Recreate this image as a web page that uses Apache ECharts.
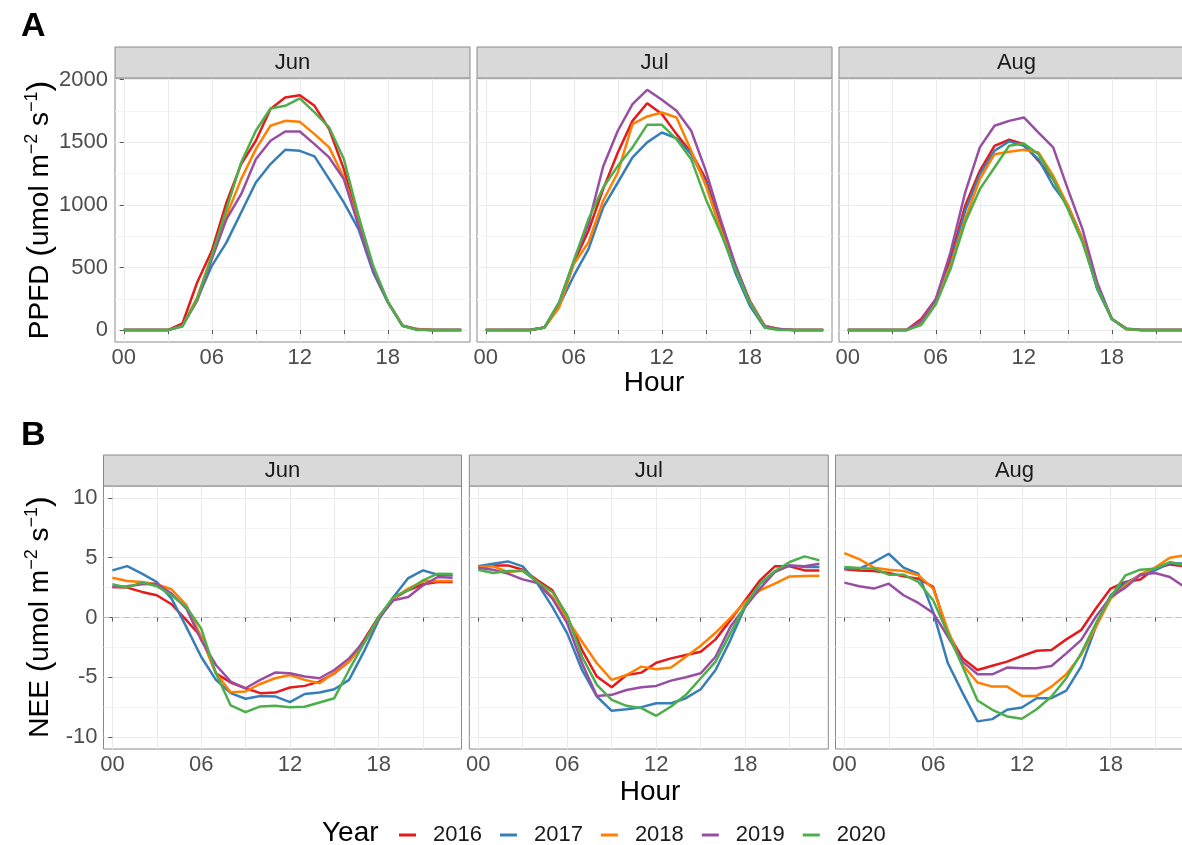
<!DOCTYPE html>
<html><head><meta charset="utf-8">
<script src="https://cdn.jsdelivr.net/npm/echarts@6/dist/echarts.min.js"></script>
<style>html,body{margin:0;padding:0;background:#fff}#c{width:1182px;height:845px}</style>
</head><body><div id="c"></div><script>
// ---------------- DATA ----------------
const hours = [0,1,2,3,4,5,6,7,8,9,10,11,12,13,14,15,16,17,18,19,20,21,22,23];
const months = ['Jun','Jul','Aug'];
const years = ['2016','2017','2018','2019','2020'];
const xMajorTicks = [0,6,12,18];
const xAllTicks = [0,3,6,9,12,15,18,21];
const ppfdTicks = [0,500,1000,1500,2000];
const ppfdMinorTicks = [250,750,1250,1750];
const neeTicks = [-10,-5,0,5,10];
const neeMinorTicks = [-7.5,-2.5,2.5,7.5];
const neeZero = 0;

// PPFD (umol m-2 s-1)
const ppfd_Jun_2016 = [0,0,0,0,53,380,633,1019,1325,1511,1764,1857,1875,1790,1604,1285,859,487,226,35,8,0,0,0];
const ppfd_Jun_2017 = [0,0,0,0,35,247,513,700,939,1178,1325,1439,1431,1386,1205,1019,806,460,221,35,5,0,0,0];
const ppfd_Jun_2018 = [0,0,0,0,35,260,593,912,1205,1444,1631,1670,1662,1564,1458,1218,859,487,226,35,8,0,0,0];
const ppfd_Jun_2019 = [0,0,0,0,35,234,567,886,1085,1364,1511,1585,1585,1484,1378,1205,833,473,226,35,5,0,0,0];
const ppfd_Jun_2020 = [0,0,0,0,29,247,593,966,1338,1591,1769,1790,1849,1737,1617,1365,912,513,226,35,0,0,0,0];

const ppfd_Jul_2016 = [0,0,0,0,21,194,540,793,1125,1418,1670,1811,1724,1564,1418,1205,833,513,234,35,8,0,0,0];
const ppfd_Jul_2017 = [0,0,0,0,21,194,434,646,979,1178,1378,1498,1577,1530,1404,1178,806,460,194,21,5,0,0,0];
const ppfd_Jul_2018 = [0,0,0,0,21,181,527,700,1032,1258,1644,1705,1737,1697,1431,1152,806,500,221,35,8,0,0,0];
const ppfd_Jul_2019 = [0,0,0,0,21,221,553,846,1306,1591,1804,1918,1838,1750,1591,1271,886,527,221,29,8,0,0,0];
const ppfd_Jul_2020 = [0,0,0,0,21,221,553,886,1138,1311,1458,1638,1638,1524,1364,1045,779,487,221,21,0,0,0,0];

const ppfd_Aug_2016 = [0,0,0,0,0,88,247,567,992,1271,1471,1519,1484,1351,1205,992,726,340,88,8,0,0,0,0];
const ppfd_Aug_2017 = [0,0,0,0,0,61,234,527,952,1245,1431,1506,1471,1364,1152,992,726,327,88,8,0,0,0,0];
const ppfd_Aug_2018 = [0,0,0,0,0,48,221,513,886,1205,1404,1423,1439,1418,1231,992,726,354,88,8,0,0,0,0];
const ppfd_Aug_2019 = [0,0,0,0,0,74,247,620,1098,1458,1631,1670,1697,1577,1458,1125,806,380,88,13,0,0,0,0];
const ppfd_Aug_2020 = [0,0,0,0,0,40,207,487,859,1125,1298,1471,1490,1404,1205,966,700,340,88,8,0,0,0,0];

// NEE (umol m-2 s-1)
const nee_Jun_2016 = [2.56,2.5,2.14,1.86,1.11,-0.22,-1.61,-4.67,-5.44,-5.92,-6.33,-6.28,-5.86,-5.72,-5.36,-4.67,-3.69,-1.89,0.06,1.58,2.28,2.78,2.97,2.97];
const nee_Jun_2017 = [3.94,4.3,3.67,2.97,1.58,-0.78,-3.28,-5.22,-6.33,-6.8,-6.56,-6.6,-7.08,-6.4,-6.28,-6.0,-5.22,-2.86,-0.22,1.72,3.3,3.94,3.58,3.53];
const nee_Jun_2018 = [3.33,3.06,2.97,2.78,2.36,1.03,-1.61,-4.67,-6.25,-6.19,-5.56,-5.08,-4.81,-5.22,-5.5,-4.61,-3.69,-2.17,-0.08,1.58,2.42,3.03,3.06,3.06];
const nee_Jun_2019 = [2.56,2.61,2.78,2.83,2.0,0.75,-1.89,-3.97,-5.36,-5.92,-5.22,-4.61,-4.67,-4.94,-5.08,-4.39,-3.42,-2.03,-0.08,1.44,1.72,2.69,3.39,3.33];
const nee_Jun_2020 = [2.78,2.5,2.94,2.61,1.86,0.89,-0.92,-4.67,-7.36,-7.92,-7.44,-7.39,-7.5,-7.47,-7.11,-6.75,-4.39,-2.17,0.06,1.72,2.28,3.11,3.67,3.64];

const nee_Jul_2016 = [4.17,4.36,4.36,4.0,3.11,2.28,0.06,-2.72,-4.94,-5.83,-4.81,-4.61,-3.78,-3.42,-3.14,-2.86,-1.83,-0.22,1.44,3.11,4.28,4.28,3.94,3.94];
const nee_Jul_2017 = [4.28,4.5,4.69,4.28,2.83,0.89,-1.33,-4.39,-6.61,-7.81,-7.67,-7.5,-7.17,-7.17,-6.75,-6.0,-4.39,-1.89,0.89,2.83,3.81,4.36,4.22,4.22];
const nee_Jul_2018 = [4.22,4.28,3.81,3.94,2.97,1.72,-0.17,-2.03,-3.83,-5.22,-4.81,-4.11,-4.33,-4.19,-3.28,-2.36,-1.28,-0.03,1.31,2.28,2.83,3.44,3.47,3.5];
const nee_Jul_2019 = [4.17,4.0,3.67,3.19,2.89,1.58,-0.5,-3.83,-6.56,-6.47,-6.06,-5.83,-5.72,-5.28,-5.0,-4.67,-3.28,-0.78,0.89,2.42,3.81,4.36,4.28,4.5];
const nee_Jul_2020 = [4.0,3.72,3.89,3.89,2.97,2.14,0.19,-3.28,-5.64,-6.89,-7.39,-7.58,-8.22,-7.44,-6.47,-5.08,-3.69,-1.33,1.03,2.83,3.89,4.64,5.11,4.78];

const nee_Aug_2016 = [4.03,3.94,3.89,3.72,3.44,3.25,2.56,-1.33,-3.42,-4.39,-4.03,-3.69,-3.22,-2.78,-2.72,-1.83,-1.06,0.75,2.42,2.97,3.17,4.08,4.44,4.28];
const nee_Aug_2017 = [4.08,4.08,4.64,5.33,4.17,3.67,0.47,-3.83,-6.33,-8.69,-8.5,-7.72,-7.53,-6.75,-6.75,-6.11,-4.11,-0.78,1.86,2.89,3.53,3.94,4.56,4.5];
const nee_Aug_2018 = [5.39,4.89,4.17,4.0,3.89,3.53,2.42,-1.06,-3.97,-5.44,-5.78,-5.78,-6.56,-6.56,-5.78,-4.75,-3.14,-0.78,1.58,2.69,3.61,4.17,5.0,5.19];
const nee_Aug_2019 = [2.92,2.61,2.42,2.83,1.86,1.22,0.39,-1.61,-3.69,-4.75,-4.75,-4.19,-4.25,-4.25,-4.06,-3.0,-1.89,0.06,1.72,2.5,3.58,3.72,3.39,2.55];
const nee_Aug_2020 = [4.22,4.14,4.08,3.58,3.58,2.97,1.44,-1.33,-4.11,-6.94,-7.72,-8.28,-8.47,-7.67,-6.61,-5.08,-3.0,-0.5,1.72,3.53,4.0,4.08,4.64,4.36];

const ppfdSeries = {
  Jun: [ppfd_Jun_2016, ppfd_Jun_2017, ppfd_Jun_2018, ppfd_Jun_2019, ppfd_Jun_2020],
  Jul: [ppfd_Jul_2016, ppfd_Jul_2017, ppfd_Jul_2018, ppfd_Jul_2019, ppfd_Jul_2020],
  Aug: [ppfd_Aug_2016, ppfd_Aug_2017, ppfd_Aug_2018, ppfd_Aug_2019, ppfd_Aug_2020]
};
const neeSeries = {
  Jun: [nee_Jun_2016, nee_Jun_2017, nee_Jun_2018, nee_Jun_2019, nee_Jun_2020],
  Jul: [nee_Jul_2016, nee_Jul_2017, nee_Jul_2018, nee_Jul_2019, nee_Jul_2020],
  Aug: [nee_Aug_2016, nee_Aug_2017, nee_Aug_2018, nee_Aug_2019, nee_Aug_2020]
};

// ---------------- STYLE / LAYOUT ----------------
const palette = ['#E41A1C','#377EB8','#FF7F00','#984EA3','#4DAF4A'];
const FONT = '"Liberation Sans", Arial, Helvetica, sans-serif';
const BORDER = '#8A8A8A';
const rows = [
  { top: 78, height: 264, stripTop: 47, min: -95, max: 2012, major: ppfdTicks, minor: ppfdMinorTicks, data: ppfdSeries, zero: false,
    panels: [{left:115,width:355},{left:477,width:355},{left:839,width:355}], labelMargin: 7 },
  { top: 486, height: 263, stripTop: 455, min: -11, max: 11, major: neeTicks, minor: neeMinorTicks, data: neeSeries, zero: true,
    panels: [{left:103.5,width:358},{left:469.3,width:359},{left:835.5,width:358}], labelMargin: 6 }
];

const grid = [], xAxis = [], yAxis = [], series = [], graphic = [];
let gi = 0;
rows.forEach((row, r) => {
  row.panels.forEach((p, c) => {
    grid.push({ left: p.left, top: row.top, width: p.width, height: row.height,
      outerBoundsMode: 'none', containLabel: false,
      show: true, borderColor: BORDER, borderWidth: 1, backgroundColor: 'transparent' });
    xAxis.push({ gridIndex: gi, type: 'value', min: -0.6, max: 23.6,
      axisLine: { show: false },
      axisTick: { show: true, customValues: xAllTicks, length: 4, lineStyle: { color: '#555', width: 1 } },
      axisLabel: { show: true, customValues: xMajorTicks, margin: 5, fontSize: 22, color: '#4D4D4D', fontFamily: FONT,
        hideOverlap: false, formatter: v => String(v).padStart(2, '0') },
      splitLine: { show: true, lineStyle: { color: '#EBEBEB', width: 1 } } });
    yAxis.push({ gridIndex: gi, type: 'value', min: row.min, max: row.max,
      axisLine: { show: false },
      axisTick: { show: c === 0, customValues: row.major, length: 4, lineStyle: { color: '#555', width: 1 } },
      axisLabel: { show: c === 0, customValues: row.major, margin: row.labelMargin, fontSize: 22, color: '#4D4D4D', fontFamily: FONT,
        formatter: v => String(v) },
      splitLine: { show: true, lineStyle: { color: '#EBEBEB', width: 1 } } });
    yAxis.push({ gridIndex: gi, type: 'value', min: row.min, max: row.max,
      axisLine: { show: false }, axisTick: { show: false, customValues: row.minor },
      axisLabel: { show: false, customValues: row.minor },
      splitLine: { show: true, lineStyle: { color: '#F5F5F5', width: 1 } } });
    const arrs = row.data[months[c]];
    arrs.forEach((arr, k) => {
      const s = { type: 'line', name: years[k], xAxisIndex: gi, yAxisIndex: gi * 2,
        data: hours.map((h, i) => [h, arr[i]]), symbol: 'none', showSymbol: false,
        lineStyle: { width: 2.5, color: palette[k] }, itemStyle: { color: palette[k] },
        animation: false, z: 3 + k };
      if (row.zero && k === 0) {
        s.markLine = { silent: true, symbol: 'none', label: { show: false }, z: 2,
          lineStyle: { type: [6, 4], color: '#BDBDBD', width: 1 }, data: [{ yAxis: neeZero }] };
      }
      series.push(s);
    });
    // strip
    graphic.push({ type: 'rect', shape: { x: p.left, y: row.stripTop, width: p.width, height: row.top - row.stripTop },
      style: { fill: '#D9D9D9', stroke: BORDER, lineWidth: 1 }, z: 10 });
    graphic.push({ type: 'text', x: p.left + p.width / 2, y: row.stripTop + (row.top - row.stripTop) / 2,
      style: { text: months[c], font: '22px ' + FONT, fill: '#1A1A1A', align: 'center', verticalAlign: 'middle' }, z: 11 });
    gi++;
  });
});

// panel letters, axis titles
graphic.push({ type: 'text', x: 21, y: 27, style: { text: 'A', font: 'bold 34px ' + FONT, fill: '#000', align: 'left', verticalAlign: 'middle' } });
graphic.push({ type: 'text', x: 21, y: 436, style: { text: 'B', font: 'bold 34px ' + FONT, fill: '#000', align: 'left', verticalAlign: 'middle' } });
const richY = {
  a: { fontSize: 28, fontFamily: FONT, lineHeight: 34, color: '#000' },
  p: { fontSize: 32, fontFamily: FONT, lineHeight: 34, color: '#000' },
  s: { fontSize: 18, fontFamily: FONT, lineHeight: 12, verticalAlign: 'top', color: '#000' }
};
graphic.push({ type: 'text', x: 40, y: 210, rotation: Math.PI / 2,
  style: { text: '{a|PPFD }{p|(}{a|umol m}{s|−2}{a| s}{s|−1}{p|)}', rich: richY, align: 'center', verticalAlign: 'middle' } });
graphic.push({ type: 'text', x: 40, y: 617, rotation: Math.PI / 2,
  style: { text: '{a|NEE }{p|(}{a|umol m}{s|−2}{a| s}{s|−1}{p|)}', rich: richY, align: 'center', verticalAlign: 'middle' } });
graphic.push({ type: 'text', x: 654, y: 383, style: { text: 'Hour', font: '28px ' + FONT, fill: '#000', align: 'center', verticalAlign: 'middle' } });
graphic.push({ type: 'text', x: 650, y: 792, style: { text: 'Hour', font: '28px ' + FONT, fill: '#000', align: 'center', verticalAlign: 'middle' } });
graphic.push({ type: 'text', x: 322, y: 833, style: { text: 'Year', font: '28px ' + FONT, fill: '#000', align: 'left', verticalAlign: 'middle' } });

const option = {
  animation: false,
  backgroundColor: '#ffffff',
  grid, xAxis, yAxis, series, graphic,
  legend: {
    show: true, left: 394, top: 819, orient: 'horizontal',
    data: years.map((y, k) => ({ name: y, icon: 'rect', itemStyle: { color: palette[k] } })),
    itemWidth: 17, itemHeight: 3, itemGap: 18,
    textStyle: { fontSize: 22, color: '#1A1A1A', fontFamily: FONT, padding: [0, 0, 0, 12] },
    selectedMode: false
  }
};
const chart = echarts.init(document.getElementById('c'), null, { renderer: 'canvas' });
chart.setOption(option);
</script></body></html>
